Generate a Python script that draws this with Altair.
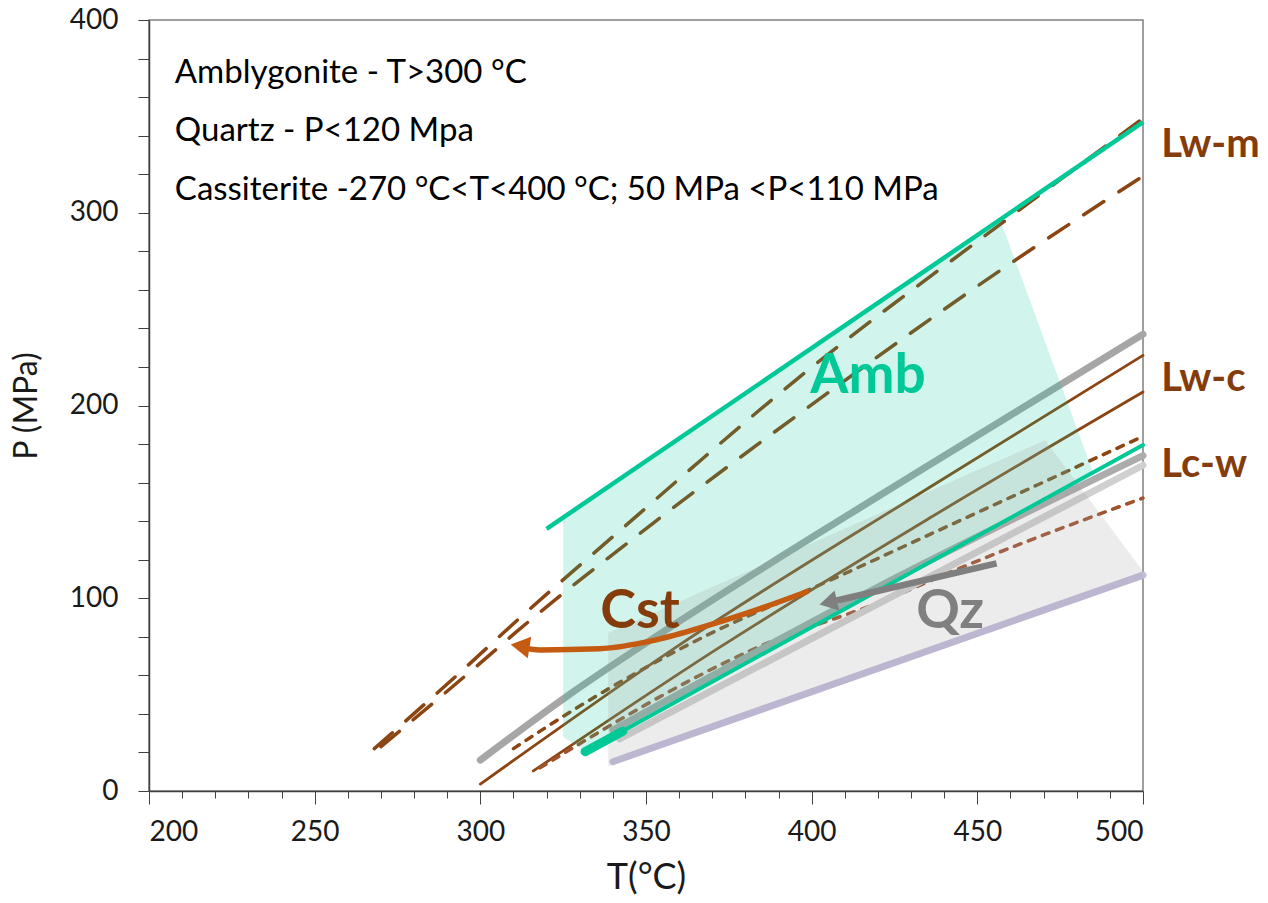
import altair as alt
import pandas as pd

FONT = "Lato"

# ---------------- data ----------------
# long-dashed Lw-m isochores
lwm_a_T = [268, 297.4, 306.9, 342.7, 396.5, 456.9, 500]
lwm_a_P = [22, 67, 82, 136, 215, 294, 349]
lwm_b_T = [270, 300.4, 310.5, 352.2, 396.5, 459.4, 500]
lwm_b_P = [23, 67, 82, 139, 196, 273, 319]
# solid Lw-c isochores
lwc_a_T = [300, 360, 436, 500]
lwc_a_P = [3.6, 75.7, 158, 226]
lwc_b_T = [316, 371, 436, 500]
lwc_b_P = [10.4, 73.2, 142, 207]
# short-dashed Lc-w isochores
lcw_a_T = [310, 329, 364, 409, 433, 500]
lcw_a_P = [22, 43, 77, 112, 131, 184]
lcw_b_T = [318, 383, 425, 437, 500]
lcw_b_P = [12, 74, 101, 110, 152]
# amblygonite isochores (teal)
amb_up_T = [320, 500]
amb_up_P = [136, 347]
amb_lo_T = [331.6, 500]
amb_lo_P = [20.4, 179.5]
amb_lo_thick_T = [331.6, 343]
amb_lo_thick_P = [20.4, 31]
# quartz isochores (grey)
qz_up_T = [300, 326, 360, 433, 500]
qz_up_P = [16, 49, 88, 166.5, 237]
qz_lo_T = [340, 427, 500]
qz_lo_P = [31.6, 112, 174]
qz_lo2_T = [342, 500]
qz_lo2_P = [27, 169]
# lavender isochore
lav_T = [340, 500]
lav_P = [15.2, 112]

# Amb field (area: lower and upper bounds)
amb_field_T = [325, 332, 457, 485]
amb_field_Plo = [28, 20.4, 139, 165]
amb_field_Phi = [141.5, 149.5, 296, 165]
# Qz field
qz_field_T = [338.6, 470.5, 500]
qz_field_Plo = [12.7, 92.2, 110]
qz_field_Phi = [82, 182, 114]

# arrows
cst_arrow_T = [312, 318, 336, 352, 366, 380, 398.5]
cst_arrow_P = [74.5, 73.2, 73.8, 78, 84.5, 92, 103.4]
qz_arrow_T = [455.8, 405]
qz_arrow_P = [118.1, 97.8]

# annotations
notes = ["Amblygonite - T>300 \u00b0C",
         "Quartz - P<120 Mpa",
         "Cassiterite -270 \u00b0C<T<400 \u00b0C; 50 MPa <P<110 MPa"]
notes_T = [207.8, 207.8, 207.8]
notes_P = [372.5, 342.4, 311.8]

side_labels = ["Lw-m", "Lw-c", "Lc-w"]
side_T = [505.5, 505.5, 505.5]
side_P = [335, 214, 169]

BROWN = "#8b4513"
TEAL = "#00c896"

xs = alt.Scale(domain=[200, 500], nice=False, zero=False)
ys = alt.Scale(domain=[0, 400], nice=False, zero=False)

x_ticks = list(range(200, 501, 10))
y_ticks = list(range(0, 401, 20))

X = alt.X("T:Q", scale=xs, title="T(\u00b0C)",
          axis=alt.Axis(values=x_ticks,
                        labelExpr="datum.value % 50 === 0 ? datum.label : ''",
                        tickSize={"condition": {"test": "datum.value % 50 === 0", "value": 13}, "value": 7},
                        grid=False, labelFontSize=28, labelFont=FONT, labelColor="#1a1a1a",
                        labelPadding=14, titleFontSize=36, titleFont=FONT,
                        titleFontWeight="normal", titleColor="#1a1a1a", titlePadding=14,
                        domainColor="#404040", tickColor="#404040", domainWidth=1.5))
Y = alt.Y("P:Q", scale=ys, title="P (MPa)",
          axis=alt.Axis(values=y_ticks,
                        labelExpr="datum.value % 100 === 0 ? datum.label : ''",
                        tickSize=11, grid=False, labelFontSize=28, labelFont=FONT,
                        labelColor="#1a1a1a", labelPadding=20, titleFontSize=32,
                        titleFont=FONT, titleFontWeight="normal", titleColor="#1a1a1a",
                        titlePadding=26, domainColor="#404040", tickColor="#404040",
                        domainWidth=1.5))


def df(T, P):
    return pd.DataFrame({"T": T, "P": P, "i": list(range(len(T)))})


def line(T, P, color, width, dash=None, opacity=1.0, cap="round", interp="monotone"):
    kw = dict(color=color, strokeWidth=width, opacity=opacity, strokeCap=cap,
              interpolate=interp, clip=False)
    if dash:
        kw["strokeDash"] = dash
    return alt.Chart(df(T, P)).mark_line(**kw).encode(x=X, y=Y, order="i:Q")


def area(T, lo, hi, color, opacity):
    d = pd.DataFrame({"T": T, "P": lo, "P2": hi})
    return alt.Chart(d).mark_area(color=color, opacity=opacity, interpolate="linear").encode(
        x=X, y=Y, y2="P2:Q")


def label(T, P, t, size, color, weight="bold", align="center"):
    return alt.Chart(pd.DataFrame({"T": T, "P": P, "t": t})).mark_text(
        font=FONT, fontSize=size, fontWeight=weight, color=color, align=align,
        baseline="middle").encode(x=X, y=Y, text="t:N")


layers = [
    # brown and grey isochores (underneath the fields)
    line(lwm_a_T, lwm_a_P, BROWN, 3.5, [24, 18]),
    line(lwm_b_T, lwm_b_P, BROWN, 3.5, [24, 18]),
    line(qz_up_T, qz_up_P, "#a6a6a6", 7),
    line(lwc_a_T, lwc_a_P, BROWN, 2.8),
    line(lwc_b_T, lwc_b_P, BROWN, 2.8),
    line(lcw_a_T, lcw_a_P, BROWN, 3.5, [7, 8]),
    line(lcw_b_T, lcw_b_P, "#a0522d", 3.5, [7, 8]),
    line(lav_T, lav_P, "#c5bcdc", 7),
    line(qz_lo2_T, qz_lo2_P, "#d0d0d0", 7),
    line(qz_lo_T, qz_lo_P, "#acacac", 7),
    # fields
    area(amb_field_T, amb_field_Plo, amb_field_Phi, TEAL, 0.18),
    area(qz_field_T, qz_field_Plo, qz_field_Phi, "#a0a0a0", 0.2),
    # amblygonite isochores
    line(amb_up_T, amb_up_P, TEAL, 4.5, cap="butt", interp="linear"),
    line(amb_lo_T, amb_lo_P, TEAL, 4, interp="linear"),
    line(amb_lo_thick_T, amb_lo_thick_P, TEAL, 9, interp="linear"),
    # arrows
    line(cst_arrow_T, cst_arrow_P, "#c55a11", 5.5, interp="monotone"),
    line(qz_arrow_T, qz_arrow_P, "#7f7f7f", 6.5, cap="butt", interp="linear"),
    alt.Chart(df([312], [75.2])).mark_point(shape="triangle-left", size=480, filled=True,
                                            opacity=1, color="#c55a11", angle=9).encode(x=X, y=Y),
    alt.Chart(df([405], [97.8])).mark_point(shape="triangle-left", size=420, filled=True,
                                            opacity=1, color="#7f7f7f", angle=347).encode(x=X, y=Y),
    # labels
    label([417], [215.3], ["Amb"], 55, TEAL),
    label([348.2], [92.9], ["Cst"], 54, "#843c0c"),
    label([441.8], [92.9], ["Qz"], 54, "#808080"),
    label(side_T, side_P, side_labels, 40, "#843c0c", align="left"),
    label(notes_T, notes_P, notes, 33, "#000000", weight="normal", align="left"),
]

chart = alt.layer(*layers).properties(
    width=994, height=771,
    autosize=alt.AutoSizeParams(type="none"),
    padding={"left": 149, "top": 20, "right": 125, "bottom": 112},
    background="white",
).configure_view(stroke="#808080", strokeWidth=1.5)

chart.save("out.html", embed_options={"renderer": "svg", "actions": False})
